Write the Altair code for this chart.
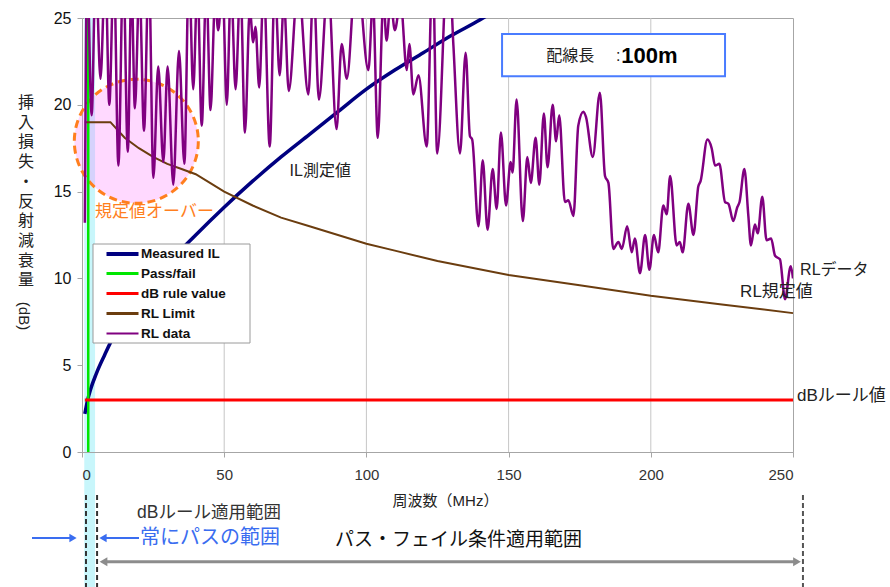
import altair as alt
import pandas as pd

# ---- series ----------------------------------------------------------------
SERIES = ["Measured IL", "Pass/fail", "dB rule value", "RL Limit", "RL data"]
COLORS = ["#000080", "#00e600", "#ff0000", "#6b3d0f", "#800080"]
LEGEND_WIDTHS = [4, 3, 3, 3, 2]

# measured insertion loss (MHz, dB)
il_freq = [1, 2, 3, 5, 8, 10, 15, 20, 25, 30, 40, 50, 60, 70, 80, 90, 100,
           110, 120, 130, 140, 145]
il_db = [2.2, 3.0, 3.6, 4.5, 5.6, 6.3, 7.6, 8.8, 9.8, 10.8, 12.5, 14.1, 15.6,
         17.0, 18.3, 19.6, 20.9, 22.0, 23.0, 24.0, 24.9, 25.4]

# pass/fail boundary frequency
pf_freq = [2.2, 2.2]
pf_db = [0, 25]

# 3 dB rule
rule_freq = [1, 250]
rule_db = [3, 3]

# return loss limit
lim_freq = [1, 10, 15, 20, 25, 30, 35, 40, 45, 50, 60, 70, 80, 90, 100, 110,
            125, 150, 175, 200, 225, 250]
lim_db = [19, 19, 18.1, 17.5, 17.0, 16.6, 16.3, 16.0, 15.5, 15.0, 14.2, 13.5,
          13.0, 12.5, 12.0, 11.6, 11.0, 10.2, 9.6, 9.0, 8.5, 8.0]

# measured return loss
rl_freq = [1.0, 1.8, 3.4, 4.8, 6.5, 8.2, 9.6, 11.2, 12.8, 14.5, 16.1, 17.4,
           18.6, 20.2, 21.8, 23.5, 25.1, 26.8, 28.6, 30.1, 32.1, 34.1, 36.0,
           37.6, 39.1, 40.6, 42.1, 43.7, 45.2, 46.8, 47.9, 49.4, 50.9, 52.4,
           54.0, 55.7, 57.3, 59.0, 60.2, 61.0, 62.3, 63.9, 66.0, 67.8, 69.5,
           71.0, 72.7, 76.0, 79.6, 81.4, 83.3, 86.5, 89.5, 91.3, 93.1, 96.5,
           100.7, 102.3, 104.0, 106.0, 107.1, 108.5, 110.0, 112.0, 114.2,
           115.1, 116.5, 118.3, 121.2, 123.3, 124.9, 128.8, 130.6, 132.9,
           134.9, 136.4, 137.2, 139.4, 140.9, 142.6, 144.4, 145.8, 147.3,
           149.1, 150.7, 151.4, 152.8, 155.0, 156.6, 157.8, 159.5, 160.8,
           162.4, 163.7, 165.5, 166.7, 167.8, 169.8, 171.0, 172.8, 174.5,
           176.3, 177.2, 179.6, 182.1, 183.9, 185.1, 186.8, 188.6, 189.8,
           191.7, 193.3, 194.4, 196.2, 198.0, 199.5, 201.1, 202.6, 204.4,
           205.6, 206.8, 209.1, 210.2, 211.2, 213.2, 215.0, 216.7, 217.5,
           219.9, 221.4, 222.6, 224.1, 226.1, 227.3, 229.0, 230.4, 231.2,
           232.9, 234.3, 235.2, 236.6, 237.6, 239.2, 240.7, 242.3, 243.7,
           245.4, 247.2, 249.2, 250.0]
rl_db = [13.2, 28, 19.4, 28, 21.5, 28, 20.0, 28, 16.5, 28, 17.3, 27,
         19.8, 27, 18.5, 28, 15.8, 22.2, 16.7, 22.2, 15.4, 23.1, 16.6,
         28, 20.9, 27, 18.8, 27, 19.7, 26, 24.3, 27, 20.0, 27,
         20.9, 27, 18.4, 25.5, 23.6, 24.5, 21.0, 27, 17.6, 27, 21.7,
         26, 20.8, 27, 20.6, 27, 20.3, 27, 18.6, 23.5, 21.5, 28,
         22.0, 26, 18.1, 26, 23.7, 26, 24.3, 26, 22.0,
         23.5, 20.6, 21.7, 17.6, 28, 17.2, 29, 23.4, 17.2,
         23.0, 18.2, 18.0, 13.0, 16.8, 12.8, 16.3, 14.0, 18.4,
         14.2, 16.7, 16.1, 20.3, 13.3, 17.0, 15.5, 18.1, 15.4,
         19.5, 16.4, 20.0, 17.9, 19.4, 14.4, 14.5, 13.6, 18.8,
         19.6, 19.3, 17.0, 20.7, 15.9, 15.5, 11.7, 12.1, 11.7,
         13.0, 11.5, 12.3, 10.3, 12.5, 10.5, 12.5, 11.5, 14.2,
         13.7, 15.9, 11.9, 12.1, 11.5, 14.3, 12.5, 15.3, 15.6,
         18.0, 17.5, 16.5, 16.6, 14.4, 14.3, 13.3, 14.1, 14.4,
         16.3, 13.6, 11.9, 13.1, 12.6, 14.7, 12.2, 12.3, 11.3,
         11.1, 8.8, 10.7, 10.0]
assert len(rl_freq) == len(rl_db)

# frequency tick values (vertical gridlines drawn as rules)
x_ticks = [0, 50, 100, 150, 200, 250]
x_grid = [50, 100, 150, 200]
y_ticks = [0, 5, 10, 15, 20, 25]

# chart labels
IL_LABEL = "IL測定値"
RL_DATA_LABEL = "RLデータ"
RL_LIMIT_LABEL = "RL規定値"
RULE_LABEL = "dBルール値"
OVER_LABEL = "規定値オーバー"
Y_TITLE = ["挿", "入", "損", "失", "・", "反", "射", "減", "衰", "量"]

FONT_LAT = "'Liberation Sans', Arial, sans-serif"
FONT_MIX = "'Liberation Sans', 'Noto Sans CJK JP', sans-serif"
FONT_JP = "'Noto Sans CJK JP', sans-serif"

W, H = 711, 434

x_scale = alt.Scale(domain=[0, 250], nice=False)
y_scale = alt.Scale(domain=[0, 25], nice=False)
color = alt.Color("series:N", scale=alt.Scale(domain=SERIES, range=COLORS), legend=None)
X_AXIS = alt.Axis(values=x_ticks, title="周波数（MHz）", grid=False, zindex=1)
Y_AXIS = alt.Axis(values=y_ticks, title=None)


def series_df(name, f, v):
    return pd.DataFrame({"series": name, "f": f, "db": v, "i": range(len(f))})


def line_layer(df, width, interp="linear", clip=False):
    return alt.Chart(df).mark_line(strokeWidth=width, interpolate=interp, clip=clip).encode(
        x=alt.X("f:Q", scale=x_scale, axis=X_AXIS),
        y=alt.Y("db:Q", scale=y_scale, axis=Y_AXIS),
        color=color,
        order="i:Q",
    )


one = pd.DataFrame({"k": [0]})


def text_at(txt, x, y, size, col="#222", font=FONT_MIX, weight="normal", align="left", **kw):
    return alt.Chart(one).mark_text(text=txt, fontSize=size, color=col, font=font,
                                    fontWeight=weight, align=align, baseline="middle", **kw
                                    ).encode(x=x, y=y)


# vertical gridlines
vgrid = alt.Chart(pd.DataFrame({"f": x_grid})).mark_rule(color="#c6c6c6", strokeWidth=1).encode(
    x=alt.X("f:Q", scale=x_scale, axis=X_AXIS))

# pass band below the 3 dB limit (0.8 - 4.6 MHz), extended under the axis
band = alt.Chart(one).mark_rect(color="#c8f6fb").encode(
    x=alt.datum(0.8), x2=alt.datum(4.6), y=alt.value(0), y2=alt.value(569))

# highlighted region where RL data exceeds the limit
over = alt.Chart(one).mark_point(shape="circle", size=15376, filled=False,
                                 fill="#ff66ff", fillOpacity=0.25, stroke="#ff7f1e",
                                 strokeWidth=3, strokeDash=[8, 5], opacity=1).encode(
    x=alt.datum(19.1), y=alt.datum(17.9))

lines = [
    line_layer(series_df(SERIES[0], il_freq, il_db), 3.5, "monotone", clip=True),
    line_layer(series_df(SERIES[1], pf_freq, pf_db), 2.5),
    line_layer(series_df(SERIES[2], rule_freq, rule_db), 3),
    line_layer(series_df(SERIES[3], lim_freq, lim_db), 2),
    line_layer(series_df(SERIES[4], rl_freq, rl_db), 2.5, "monotone", clip=True),
]

# in-plot labels
labels = [
    text_at(IL_LABEL, alt.datum(73), alt.datum(16.2), 16),
    text_at(RL_DATA_LABEL, alt.datum(252.5), alt.datum(10.5), 16),
    text_at(RL_LIMIT_LABEL, alt.datum(231.4), alt.datum(9.2), 17),
    text_at(RULE_LABEL, alt.datum(251.4), alt.datum(3.2), 17),
    text_at(OVER_LABEL, alt.datum(4.6), alt.datum(13.8), 17, col="#ff7f1e", font=FONT_JP),
]

# cable length box
box = [
    alt.Chart(one).mark_rect(fill="white", stroke="#4a7cff", strokeWidth=2).encode(
        x=alt.datum(147.7), x2=alt.datum(226.1), y=alt.datum(24.08), y2=alt.datum(21.65)),
    text_at("配線長", alt.datum(163.2), alt.datum(22.8), 16, font=FONT_JP),
    text_at(":", alt.datum(187.8), alt.datum(22.8), 16),
    text_at("100m", alt.datum(189.6), alt.datum(22.8), 22, col="#000", font=FONT_LAT, weight="bold"),
]

# legend
legend = [alt.Chart(one).mark_rect(fill="white", stroke="#9a9a9a", strokeWidth=1).encode(
    x=alt.value(11), x2=alt.value(168), y=alt.value(226), y2=alt.value(325))]
row_y = [236, 255.5, 275.5, 295.5, 315.5]
for name, col, sw, ry in zip(SERIES, COLORS, LEGEND_WIDTHS, row_y):
    legend.append(alt.Chart(one).mark_rule(color=col, strokeWidth=sw).encode(
        x=alt.value(24.5), x2=alt.value(56.5), y=alt.value(ry)))
    legend.append(text_at(name, alt.value(59), alt.value(ry), 13.5, col="#111",
                          font=FONT_LAT, weight="bold"))

# vertical axis title
ytitle = [
    alt.Chart(one).mark_text(text=Y_TITLE, fontSize=16, lineHeight=19.7, font=FONT_JP,
                             color="#222", align="center", baseline="top").encode(
        x=alt.value(-56), y=alt.value(77)),
    alt.Chart(one).mark_text(text="(dB)", fontSize=15, font=FONT_LAT, angle=90,
                             color="#222", align="center", baseline="middle").encode(
        x=alt.value(-58), y=alt.value(298)),
]

# ranges below the frequency axis
BLUE = "#3a6df0"
below = [
    alt.Chart(one).mark_rule(color="#333", strokeWidth=2, strokeDash=[5, 3]).encode(
        x=alt.datum(1.4), y=alt.value(477), y2=alt.value(569)),
    alt.Chart(one).mark_rule(color="#333", strokeWidth=2, strokeDash=[5, 3]).encode(
        x=alt.datum(5.3), y=alt.value(477), y2=alt.value(569)),
    alt.Chart(one).mark_rule(color="#555", strokeWidth=2, strokeDash=[5, 3]).encode(
        x=alt.datum(253.5), y=alt.value(477), y2=alt.value(569)),
    text_at("dBルール適用範囲", alt.value(55), alt.value(495), 17.5, col="#333"),
    text_at("常にパスの範囲", alt.value(58), alt.value(520), 20, col=BLUE, font=FONT_JP),
    text_at("パス・フェイル条件適用範囲", alt.value(253), alt.value(522), 19, col="#111", font=FONT_JP),
    # blue arrows pointing at the always-pass band
    alt.Chart(one).mark_rule(color=BLUE, strokeWidth=2).encode(
        x=alt.value(-50), x2=alt.value(-10), y=alt.value(520)),
    alt.Chart(one).mark_point(shape="triangle-right", size=70, filled=True, color=BLUE, opacity=1).encode(
        x=alt.value(-9), y=alt.value(520)),
    alt.Chart(one).mark_rule(color=BLUE, strokeWidth=2).encode(
        x=alt.value(20), x2=alt.value(57), y=alt.value(520)),
    alt.Chart(one).mark_point(shape="triangle-left", size=70, filled=True, color=BLUE, opacity=1).encode(
        x=alt.value(21), y=alt.value(520)),
    # grey double arrow for the pass/fail range
    alt.Chart(one).mark_rule(color="#8c8c8c", strokeWidth=3).encode(
        x=alt.value(22), x2=alt.value(714), y=alt.value(543.7)),
    alt.Chart(one).mark_point(shape="triangle-left", size=80, filled=True, color="#8c8c8c", opacity=1).encode(
        x=alt.value(21.5), y=alt.value(543.7)),
    alt.Chart(one).mark_point(shape="triangle-right", size=80, filled=True, color="#8c8c8c", opacity=1).encode(
        x=alt.value(715), y=alt.value(543.7)),
]

chart = alt.layer(vgrid, band, over, *lines, *labels, *box, *legend, *ytitle, *below).properties(
    width=W, height=H,
    padding={"left": 82, "top": 18, "right": 97, "bottom": 135},
    autosize=alt.AutoSizeParams(type="none"),
).configure_view(
    stroke="#a6a6a6", strokeWidth=1
).configure_axis(
    gridColor="#c6c6c6", gridWidth=1, domainColor="#a6a6a6", tickColor="#a6a6a6",
    tickSize=5, labelFont=FONT_LAT, titleFont=FONT_MIX,
).configure_axisX(
    labelFontSize=15, labelColor="#333", labelPadding=10,
    titleFontSize=15, titleFontWeight="normal", titleColor="#222",
    titleX=363, titleY=48, titleBaseline="middle", titleAlign="center",
).configure_axisY(
    labelFontSize=16, labelColor="#111", labelPadding=6,
)

chart.save("out.html", embed_options={"renderer": "svg", "actions": False})
